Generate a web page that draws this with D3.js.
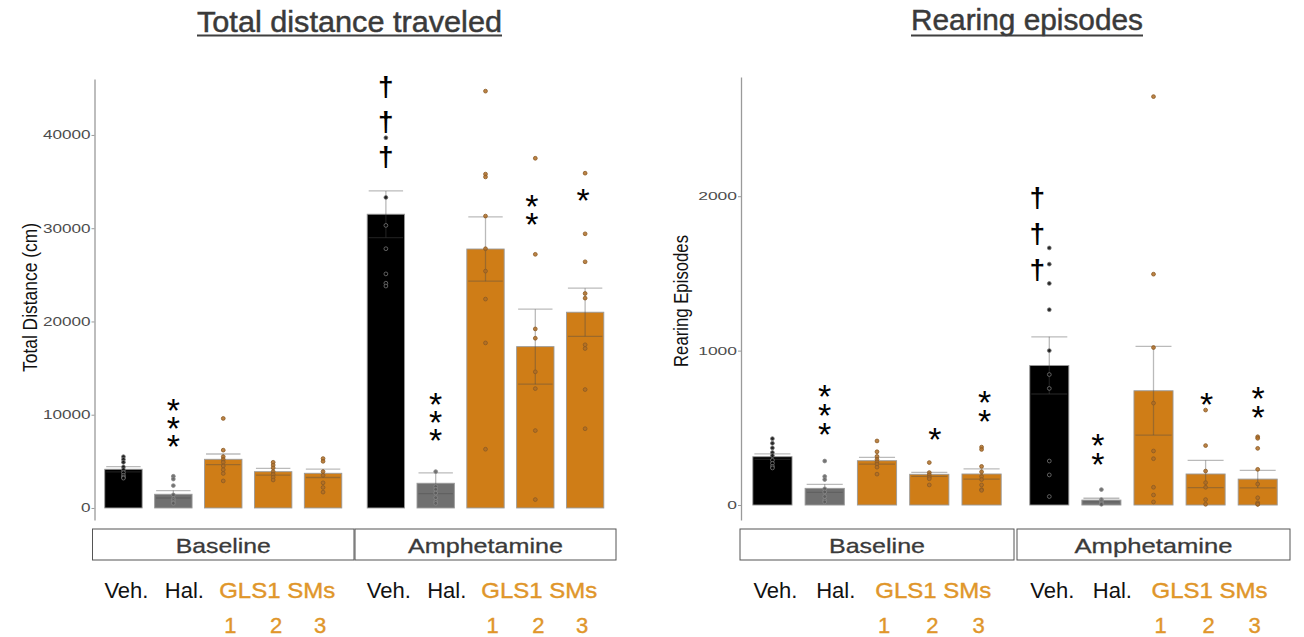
<!DOCTYPE html>
<html><head><meta charset="utf-8">
<script src="https://cdn.jsdelivr.net/npm/d3@7"></script>
<style>body{margin:0;background:#fff}svg{display:block}</style>
</head><body><svg id="c" width="1304" height="637"></svg>
<script>
// ---------- data ----------
const phases = ["Baseline", "Amphetamine"];
const groups = ["Veh", "Hal", "SM1", "SM2", "SM3"];
const groupLabels = ["Veh.", "Hal.", "GLS1 SMs"];
const smNumbers = ["1", "2", "3"];
const titles = ["Total distance traveled", "Rearing episodes"];
const yTitles = ["Total Distance (cm)", "Rearing Episodes"];

const distTicks = [0, 10000, 20000, 30000, 40000];
const distMean = [[4150, 1470, 5220, 3890, 3720], [31500, 2650, 27770, 17300, 20990]];
const distSem  = [[280, 400, 570, 360, 450], [2500, 1120, 3450, 4020, 2580]];
const distPoints = [
  [[5500, 5200, 4900, 4400, 4100, 3800, 3500, 3300, 3200],
   [3400, 3100, 2400, 1400, 1000, 800, 600, 500],
   [9600, 6200, 5500, 5200, 4900, 4500, 4100, 3700, 2900],
   [4900, 4600, 4300, 3900, 3600, 3300, 3000],
   [5300, 5000, 3900, 3500, 2700, 2200, 1700]],
  [[41900, 39700, 33300, 30300, 27800, 25100, 24100, 23800],
   [3900, 2300, 2000, 1600, 1100, 700, 500],
   [44700, 35800, 35500, 31300, 27800, 25400, 22400, 17700, 6300],
   [37500, 27200, 19200, 18200, 14600, 12800, 8300, 900],
   [35900, 29400, 26400, 23000, 22500, 17500, 17100, 12700, 8500]]
];
// significance marks: phase, group, symbol, count, value of lowest symbol centre
const distSig = [
  [0, 1, "*", 3, 7470],
  [1, 0, "\u2020", 3, 37430],
  [1, 1, "*", 3, 8120],
  [1, 3, "*", 2, 31240],
  [1, 4, "*", 1, 33810]
];

const rearTicks = [0, 1000, 2000];
const rearMean = [[313, 108, 287, 199, 201], [904, 32, 740, 201, 168]];
const rearSem  = [[18, 26, 22, 13, 33], [185, 12, 287, 88, 57]];
const rearPoints = [
  [[430, 400, 370, 340, 320, 290, 270, 250, 240],
   [285, 185, 165, 105, 85, 55, 30, 20],
   [415, 345, 315, 295, 280, 265, 245, 200],
   [275, 210, 195, 180, 170, 130],
   [375, 360, 250, 215, 185, 165, 130, 100, 95]],
  [[1665, 1560, 1435, 1265, 1000, 845, 755, 285, 195, 55],
   [100, 35, 25, 15, 10, 5],
   [2645, 1495, 1020, 660, 350, 300, 115, 65, 20],
   [615, 385, 220, 145, 115, 35, 5],
   [442, 432, 367, 231, 136, 47, 15, 5, 5]]
];
const rearSig = [
  [0, 1, "*", 3, 511],
  [0, 3, "*", 1, 474],
  [0, 4, "*", 2, 594],
  [1, 0, "\u2020", 3, 1510],
  [1, 1, "*", 2, 313],
  [1, 3, "*", 1, 701],
  [1, 4, "*", 2, 619]
];

// ---------- style / layout ----------
const barFill = ["#000000", "#707070", "#cf7d17", "#cf7d17", "#cf7d17"];
const ptFill  = ["#000000", "#5a5a5a", "#b06d24", "#b06d24", "#b06d24"];
const ptStroke = ["#777777", "#8a8a8a", "#8a5a24", "#8a5a24", "#8a5a24"];
const orange = "#e0962a";

const panels = [
  { means: distMean, sems: distSem, points: distPoints, sig: distSig, ticks: distTicks,
    domain: [-1290, 46000], yRange: [520, 79], axisX: 94.5,
    facets: [[92.5, 354], [355, 616]],
    tickFont: 12.5, tickScale: 1.37,
    title: titles[0], titleX: [197, 502], titleY: 31.5,
    yTitle: yTitles[0], yTitleX: 37, yTitleY: 297.5, yTitleLen: 149, yTitleFont: 17, yTitleScale: 1.23,
    sigNudge: [[0, 0, 0, 0, 0], [0, 0, 0, -3.5, -2]], sigStep: { "*": 18, "\u2020": 35 },
    daggerNudge: 0,
    stripText: [95, 155] },
  { means: rearMean, sems: rearSem, points: rearPoints, sig: rearSig, ticks: rearTicks,
    domain: [-97, 2772], yRange: [520, 77], axisX: 741,
    facets: [[740, 1014], [1017, 1290]],
    tickFont: 11.8, tickScale: 1.48,
    title: titles[1], titleX: [911, 1143], titleY: 30,
    yTitle: yTitles[1], yTitleX: 687.5, yTitleY: 301, yTitleLen: 132, yTitleFont: 15.5, yTitleScale: 1.35,
    sigNudge: [[0, 0, 0, 5.5, 3], [0, -3.5, 0, 1, 0.5]], sigStep: { "*": 19, "\u2020": 36 },
    daggerNudge: -12,
    stripText: [96, 158] }
];

const svg = d3.select("#c");
const sans = "'Liberation Sans', Arial, sans-serif";

// ink metrics of the asterisk glyph (canvas measure)
const STAR_FS = 34;
const ctx = document.createElement("canvas").getContext("2d");
ctx.font = `${STAR_FS}px 'Liberation Sans', Arial, sans-serif`;
const starM = ctx.measureText("*");

panels.forEach(p => {
  const y = d3.scaleLinear().domain(p.domain).range(p.yRange);
  const g = svg.append("g");

  // title
  g.append("text").attr("x", p.titleX[0]).attr("y", p.titleY)
    .attr("textLength", p.titleX[1] - p.titleX[0]).attr("lengthAdjust", "spacingAndGlyphs")
    .attr("font-family", sans).attr("font-size", 30).attr("fill", "#3a3a3a")
    .attr("stroke", "#3a3a3a").attr("stroke-width", 0.5).text(p.title);
  g.append("rect").attr("x", p.titleX[0]).attr("y", 34.5).attr("width", p.titleX[1] - p.titleX[0])
    .attr("height", 2).attr("fill", "#3f3f3f");

  // y axis
  const ax = g.append("g").attr("transform", `translate(${p.axisX},0)`)
    .call(d3.axisLeft(y).tickValues(p.ticks).tickSize(3).tickSizeOuter(0).tickFormat(d3.format("d")));
  ax.select(".domain").attr("stroke", "#9a9a9a").attr("stroke-width", 1.3);
  ax.selectAll(".tick line").attr("stroke", "#9a9a9a");
  ax.selectAll(".tick text").attr("font-family", sans).attr("font-size", p.tickFont)
    .attr("fill", "#4d4d4d").attr("x", -4 / p.tickScale).attr("transform", `scale(${p.tickScale},1)`);

  // y title
  g.append("text")
    .attr("transform", `translate(${p.yTitleX},${p.yTitleY}) scale(${p.yTitleScale},1) rotate(-90)`)
    .attr("text-anchor", "middle").attr("font-family", sans).attr("font-size", p.yTitleFont)
    .attr("textLength", p.yTitleLen).attr("lengthAdjust", "spacingAndGlyphs")
    .attr("fill", "#111").text(p.yTitle);

  phases.forEach((ph, i) => {
    const x = d3.scaleBand().domain(groups).range(p.facets[i]).paddingInner(0.25).paddingOuter(0.245);
    const bw = x.bandwidth();
    const cx = gname => x(gname) + bw / 2;
    const rows = groups.map((gn, k) => ({ gn, k, m: p.means[i][k], s: p.sems[i][k], pts: p.points[i][k] }));

    // bars
    g.selectAll(null).data(rows).enter().append("rect")
      .attr("x", d => x(d.gn)).attr("width", bw)
      .attr("y", d => y(d.m)).attr("height", d => y(0) - y(d.m))
      .attr("fill", d => barFill[d.k]).attr("stroke", "#9a9a9a").attr("stroke-width", 0.9);

    // error bars
    const eb = g.selectAll(null).data(rows).enter().append("g")
      .attr("stroke", "#4a4a4a").attr("stroke-opacity", 0.38).attr("stroke-width", 1.3);
    eb.append("line").attr("x1", d => cx(d.gn)).attr("x2", d => cx(d.gn))
      .attr("y1", d => y(d.m - d.s)).attr("y2", d => y(d.m + d.s));
    eb.append("line").attr("x1", d => cx(d.gn) - bw * 0.46).attr("x2", d => cx(d.gn) + bw * 0.46)
      .attr("y1", d => y(d.m + d.s)).attr("y2", d => y(d.m + d.s));
    eb.append("line").attr("x1", d => cx(d.gn) - bw * 0.46).attr("x2", d => cx(d.gn) + bw * 0.46)
      .attr("y1", d => y(d.m - d.s)).attr("y2", d => y(d.m - d.s));

    // points
    rows.forEach(r => {
      g.selectAll(null).data(r.pts).enter().append("circle")
        .attr("cx", cx(r.gn)).attr("cy", v => y(v)).attr("r", 1.9)
        .attr("fill", ptFill[r.k]).attr("fill-opacity", 0.85)
        .attr("stroke", ptStroke[r.k]).attr("stroke-width", 0.8);
    });

    // significance marks
    p.sig.filter(s => s[0] === i).forEach(s => {
      const [ , k, sym, n, val] = s;
      const isDag = sym !== "*";
      const xx = cx(groups[k]) + (isDag ? p.daggerNudge : p.sigNudge[i][k]);
      const step = p.sigStep[sym];
      const yTop = y(val) - (n - 1) * step;
      if (isDag) {
        const t = g.append("text").attr("text-anchor", "middle").attr("font-family", sans)
          .attr("font-size", 28).attr("font-weight", "bold").attr("fill", "#000");
        for (let j = 0; j < n; j++) {
          t.append("tspan").attr("x", xx).attr("y", yTop + j * step + 7.5).text(sym);
        }
      } else {
        // one vertical text run per stack of asterisks
        const t = g.append("text").attr("x", 0).attr("y", 0)
          .attr("font-family", sans).attr("font-size", STAR_FS).attr("fill", "#000")
          .style("writing-mode", "vertical-rl").style("text-orientation", "upright")
          .text(sym.repeat(n));
        const b0 = t.node().getBBox();
        const adv = b0.height / n;
        t.style("letter-spacing", (step - adv) + "px");
        const b1 = t.node().getBBox();
        const inkC = starM.fontBoundingBoxAscent - (starM.actualBoundingBoxAscent - starM.actualBoundingBoxDescent) / 2;
        const cell0 = b1.y;
        t.attr("transform", `translate(${xx - (b1.x + b1.width / 2)},${yTop + 2.5 - (cell0 + inkC)})`);
      }
    });

    // strip
    const f = p.facets[i];
    g.append("rect").attr("x", f[0]).attr("y", 529).attr("width", f[1] - f[0]).attr("height", 31)
      .attr("fill", "#fff").attr("stroke", "#555").attr("stroke-width", 1);
    g.append("text").attr("x", (f[0] + f[1]) / 2).attr("y", 552.5).attr("text-anchor", "middle")
      .attr("font-family", sans).attr("font-size", 21).attr("fill", "#3a3a3a")
      .attr("stroke", "#3a3a3a").attr("stroke-width", 0.3)
      .attr("textLength", p.stripText[i]).attr("lengthAdjust", "spacingAndGlyphs").text(ph);

    // group labels
    const lab = g.append("g").attr("font-family", sans).attr("font-size", 22).attr("text-anchor", "middle");
    lab.append("text").attr("x", cx(groups[0]) + 3).attr("y", 598).attr("fill", "#111").text(groupLabels[0]);
    lab.append("text").attr("x", cx(groups[1]) + 11).attr("y", 598).attr("fill", "#111").text(groupLabels[1]);
    lab.append("text").attr("x", cx(groups[3]) + 4).attr("y", 598).attr("fill", orange)
      .attr("stroke", orange).attr("stroke-width", 0.4)
      .attr("textLength", 116).attr("lengthAdjust", "spacingAndGlyphs").text(groupLabels[2]);
    const numNudge = [7, 3, -3];
    smNumbers.forEach((t, j) => {
      lab.append("text").attr("x", cx(groups[2 + j]) + numNudge[j]).attr("y", 633)
        .attr("fill", orange).attr("stroke", orange).attr("stroke-width", 0.4).text(t);
    });
  });
});
</script></body></html>
